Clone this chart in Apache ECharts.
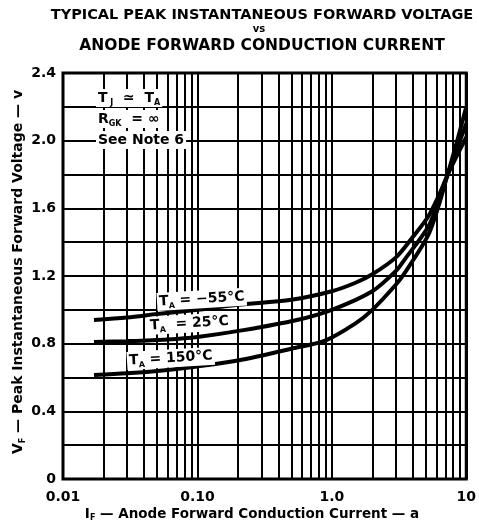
<!DOCTYPE html>
<html><head><meta charset="utf-8">
<script src="https://cdn.jsdelivr.net/npm/echarts@6/dist/echarts.min.js"></script>
<style>html,body{margin:0;padding:0;background:#fff}#c{width:479px;height:529px}</style>
</head><body><div id="c"></div>
<script>
// ---- data ----
const xTickValues = [0.01, 0.1, 1, 10];
const xTickLabels = ['0.01', '0.10', '1.0', '10'];
const yTickLabels = ['0', '0.4', '0.8', '1.2', '1.6', '2.0', '2.4'];
const xMinorGrid = [0.02,0.03,0.04,0.05,0.06,0.07,0.08,0.09,0.2,0.3,0.4,0.5,0.6,0.7,0.8,0.9,2,3,4,5,6,7,8,9];

const currentM55 = [0.017,0.03,0.05,0.1,0.2,0.5,1.0,1.5,2.0,3.0,4.0,5.2,6.2,7.2,8.5,10];
const voltageM55 = [0.94,0.955,0.975,1.0,1.03,1.06,1.11,1.16,1.21,1.31,1.43,1.55,1.67,1.79,1.91,2.02];

const current25 = [0.017,0.03,0.06,0.1,0.22,0.55,1.0,2.0,3.0,3.5,5.2,6.2,7.2,8.5,10];
const voltage25 = [0.81,0.815,0.825,0.84,0.88,0.94,1.0,1.11,1.23,1.30,1.49,1.64,1.79,1.95,2.1];

const current150 = [0.017,0.03,0.06,0.1,0.2,0.5,0.9,1.5,2.0,3.0,3.5,5.2,6.2,7.2,8.5,10];
const voltage150 = [0.615,0.625,0.645,0.665,0.70,0.77,0.82,0.92,1.0,1.15,1.22,1.44,1.61,1.79,1.99,2.2];

const zip = (a, b) => a.map((v, i) => [v, b[i]]);
const FONT = 'DejaVu Sans';

const chart = echarts.init(document.getElementById('c'), null, {renderer: 'canvas'});

const curve = (name, data) => ({
  name, type: 'line', data, smooth: 0.3, symbol: 'none', silent: true,
  lineStyle: {color: '#000', width: 4}, z: 5, animation: false
});

const sub = {fontSize: 8, fontWeight: 'bold', fontFamily: FONT, color: '#000', verticalAlign: 'bottom', lineHeight: 8};
const main14 = {fontSize: 14, fontWeight: 'bold', fontFamily: FONT, color: '#000', lineHeight: 18};

chart.setOption({
  animation: false,
  backgroundColor: '#fff',
  grid: {left: 63, right: 7, top: 73, bottom: 50, show: true, borderColor: '#000', borderWidth: 3, backgroundColor: 'transparent', z: 10},
  xAxis: {
    type: 'log', logBase: 10, min: 0.01, max: 10,
    axisLine: {show: false}, axisTick: {show: false},
    splitLine: {show: true, lineStyle: {color: '#000', width: 2}},
    axisLabel: {
      margin: 11, color: '#000', fontFamily: FONT, fontWeight: 'bold', fontSize: 14,
      formatter: v => { const i = xTickValues.findIndex(t => Math.abs(Math.log10(t) - Math.log10(v)) < 1e-6); return i >= 0 ? xTickLabels[i] : ''; }
    }
  },
  yAxis: {
    type: 'value', min: 0, max: 2.4, interval: 0.2,
    axisLine: {show: false}, axisTick: {show: false},
    splitLine: {show: true, lineStyle: {color: '#000', width: 2}},
    axisLabel: {
      margin: 7, color: '#000', fontFamily: FONT, fontWeight: 'bold', fontSize: 14,
      formatter: v => { const k = Math.round(v * 10); return k % 4 === 0 ? yTickLabels[k / 4] : ''; }
    }
  },
  graphic: [
    {type: 'text', x: 262, y: 15, z: 100, style: {text: 'TYPICAL PEAK INSTANTANEOUS FORWARD VOLTAGE', font: 'bold 14.5px "DejaVu Sans"', fill: '#000', align: 'center', verticalAlign: 'middle'}},
    {type: 'text', x: 259, y: 29.5, z: 100, style: {text: 'vs', font: 'bold 10px "DejaVu Sans"', fill: '#000', align: 'center', verticalAlign: 'middle'}},
    {type: 'text', x: 262, y: 45.5, z: 100, style: {text: 'ANODE FORWARD CONDUCTION CURRENT', font: 'bold 15.5px "DejaVu Sans"', fill: '#000', align: 'center', verticalAlign: 'middle'}},
    {type: 'text', x: 18, y: 272, rotation: Math.PI / 2, z: 100, style: {
      text: '{m|V}{s|F}{m| — Peak Instantaneous Forward Voltage — v}', align: 'center', verticalAlign: 'middle',
      rich: {m: {fontSize: 14, fontWeight: 'bold', fontFamily: FONT, color: '#000', lineHeight: 17}, s: sub}}},
    {type: 'text', x: 252, y: 514, z: 100, style: {
      text: '{m|I}{s|F}{m| — Anode Forward Conduction Current — a}', align: 'center', verticalAlign: 'middle',
      rich: {m: {fontSize: 13.5, fontWeight: 'bold', fontFamily: FONT, color: '#000', lineHeight: 16}, s: sub}}},
    {type: 'text', x: 96, y: 98, z: 100, style: {
      text: '{m|T}{s| J}{m|  ≃  T}{s|A}', verticalAlign: 'middle', backgroundColor: '#fff', padding: [0, 2],
      rich: {m: main14, s: sub}}},
    {type: 'text', x: 96, y: 119, z: 100, style: {
      text: '{m|R}{s|GK}{m|  = ∞}', verticalAlign: 'middle', backgroundColor: '#fff', padding: [0, 2],
      rich: {m: main14, s: sub}}},
    {type: 'text', x: 96, y: 140, z: 100, style: {
      text: '{m|See Note 6}', verticalAlign: 'middle', backgroundColor: '#fff', padding: [0, 2],
      rich: {m: main14}}},
    {type: 'text', x: 157, y: 302, rotation: 0.06, z: 100, style: {
      text: '{m|T}{s|A}{m| = −55°C}', verticalAlign: 'middle', backgroundColor: '#fff', padding: [0, 2],
      rich: {m: main14, s: sub}}},
    {type: 'text', x: 148, y: 326, rotation: 0.06, z: 100, style: {
      text: '{m|T}{s|A}{m|  = 25°C}', verticalAlign: 'middle', backgroundColor: '#fff', padding: [0, 2],
      rich: {m: main14, s: sub}}},
    {type: 'text', x: 127, y: 361, rotation: 0.06, z: 100, style: {
      text: '{m|T}{s|A}{m| = 150°C}', verticalAlign: 'middle', backgroundColor: '#fff', padding: [0, 2],
      rich: {m: main14, s: sub}}}
  ],
  series: [
    {
      type: 'line', data: [], silent: true, animation: false,
      markLine: {
        silent: true, symbol: ['none', 'none'], label: {show: false}, animation: false,
        lineStyle: {color: '#000', width: 2, type: 'solid'},
        data: xMinorGrid.map(v => ({xAxis: v}))
      }
    },
    curve('-55', zip(currentM55, voltageM55)),
    curve('25', zip(current25, voltage25)),
    curve('150', zip(current150, voltage150))
  ]
});
</script>
</body></html>
